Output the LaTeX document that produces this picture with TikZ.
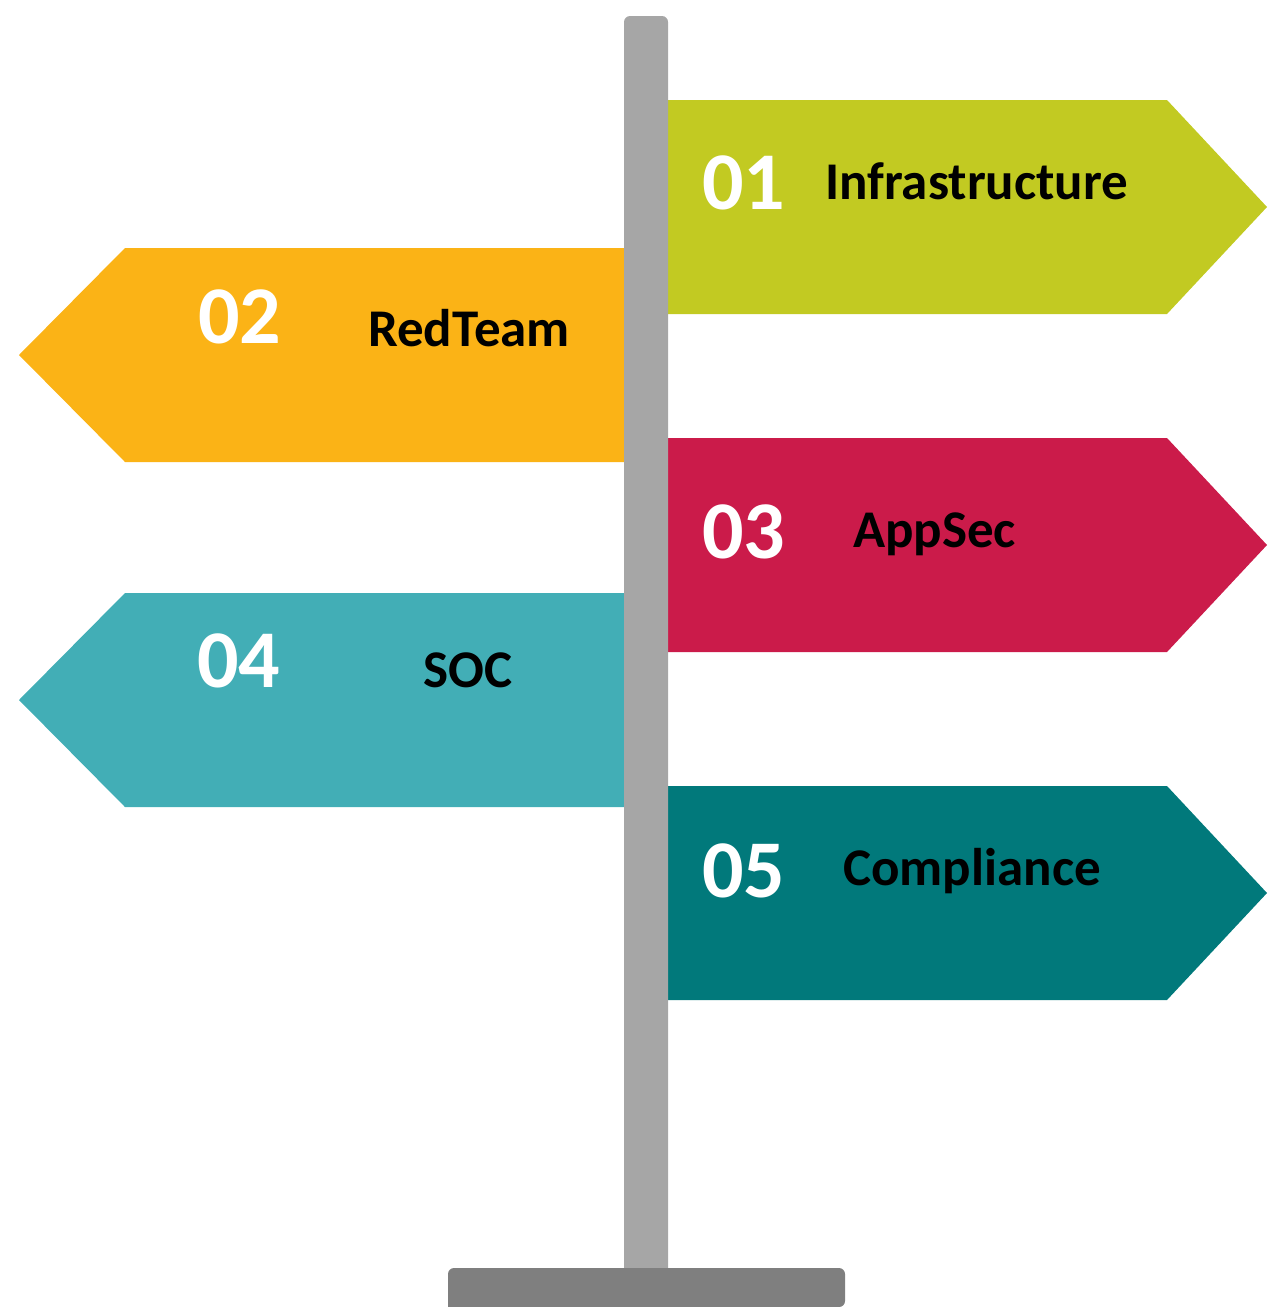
\documentclass[tikz,border=0pt]{standalone}
\usepackage{fontspec}
\setmainfont{Carlito}
\definecolor{cgreen}{HTML}{C2CA22}
\definecolor{corange}{HTML}{FBB316}
\definecolor{ccrimson}{HTML}{CB1B4A}
\definecolor{cteal}{HTML}{42AEB6}
\definecolor{cdark}{HTML}{01797B}
\definecolor{cpole}{HTML}{A6A6A6}
\definecolor{cbase}{HTML}{7F7F7F}
\tikzset{
  num/.style={inner sep=0pt, anchor=base west, text=white, font=\fontsize{82}{82}\selectfont\bfseries},
  lab/.style={inner sep=0pt, anchor=base west, text=black, font=\fontsize{53}{53}\selectfont\bfseries},
}
\begin{document}
\begin{tikzpicture}[x=1pt,y=-1pt]
\useasboundingbox (0,0) rectangle (1267,1307);
% right signs
\fill[cgreen] (668,100) -- (1167,100) -- (1267,207) -- (1167,314) -- (668,314) -- cycle;
\fill[ccrimson] (668,438) -- (1167,438) -- (1267,545) -- (1167,652) -- (668,652) -- cycle;
\fill[cdark] (668,786) -- (1167,786) -- (1267,893) -- (1167,1000) -- (668,1000) -- cycle;
% left signs
\fill[corange] (630,248) -- (125,248) -- (19,355) -- (125,462) -- (630,462) -- cycle;
\fill[cteal] (630,593) -- (125,593) -- (19,700) -- (125,807) -- (630,807) -- cycle;
% pole
\fill[cpole, rounded corners=6pt] (624,1275) -- (624,16) -- (668,16) -- (668,1275) [sharp corners] -- cycle;
% base
\fill[cbase, rounded corners=6pt] (448,1307) -- (448,1268) -- (845,1268) -- (845,1307) [sharp corners] -- cycle;
% texts
\node[num] (n1) at (702,209) {01};
\node[lab] (l1) at (825,199) {Infrastructure};
\node[num] (n2) at (198,343) {02};
\node[lab] (l2) at (368,346) {RedTeam};
\node[num] (n3) at (702,558) {03};
\node[lab] (l3) at (853,547) {AppSec};
\node[num] (n4) at (197,687) {04};
\node[lab] (l4) at (423,687) {SOC};
\node[num] (n5) at (702,897) {05};
\node[lab] (l5) at (843,885) {Compliance};
\end{tikzpicture}
\end{document}
